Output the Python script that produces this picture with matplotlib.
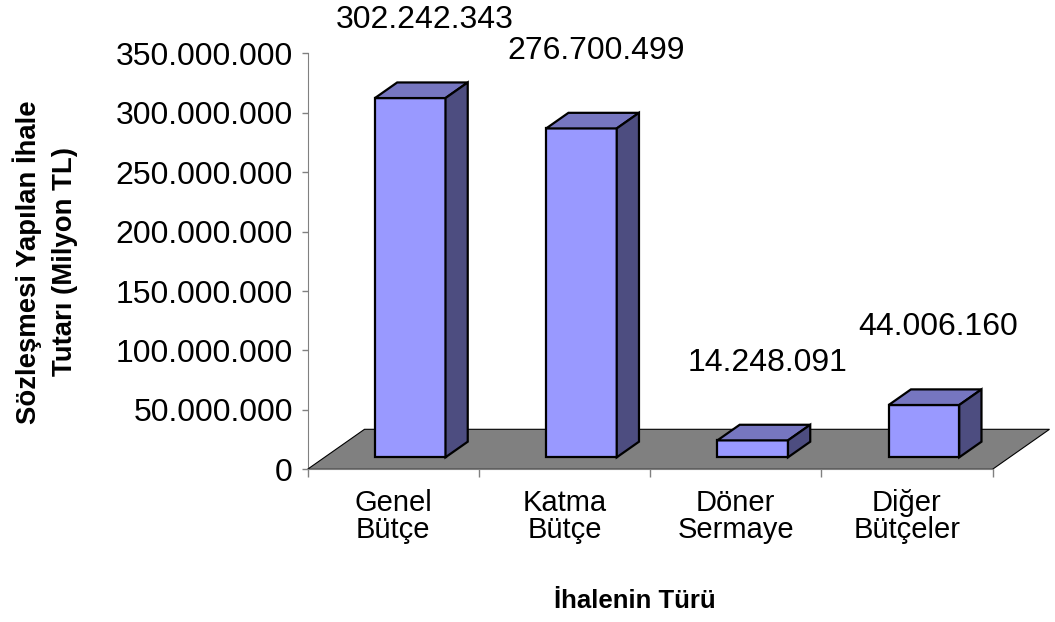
import matplotlib
matplotlib.use("Agg")
import matplotlib.pyplot as plt
from matplotlib.patches import Polygon

plt.rcParams['font.family'] = ['Liberation Sans', 'DejaVu Sans']

categories = ["Genel\nBütçe", "Katma\nBütçe", "Döner\nSermaye", "Diğer\nBütçeler"]
values = [302242343, 276700499, 14248091, 44006160]
yticks = [0, 50e6, 100e6, 150e6, 200e6, 250e6, 300e6, 350e6]

front_c = "#9999FF"
top_c = "#7676C0"
side_c = "#4D4D80"
floor_c = "#808080"

W, H = 1055, 622
fig = plt.figure(figsize=(W / 100, H / 100), dpi=100)
# plot area (front plane of the 3d box), in pixels
L, B, PW, PH = 307.5, H - 469.3, 685, 416
ax = fig.add_axes([L / W, B / H, PW / W, PH / H])
ax.set_xlim(0, len(values))
ax.set_ylim(0, 350e6)

# oblique depth vector of the floor, px -> data units
dx = 57 * len(values) / PW
dy = 40 * 350e6 / PH
f0, f1 = 0.30, 0.69      # bar front / back depth fraction
hw = 0.206               # half bar width (category units)

floor = Polygon([(0, 0), (len(values), 0), (len(values) + dx, dy), (dx, dy)],
                closed=True, facecolor=floor_c, edgecolor="black", lw=0.8,
                clip_on=False, zorder=1)
ax.add_patch(floor)

sx, sy = (f1 - f0) * dx, (f1 - f0) * dy
for i, v in enumerate(values):
    x0 = i + 0.5 - hw + f0 * dx
    x1 = x0 + 2 * hw
    y0 = f0 * dy
    yt = y0 + v
    kw = dict(closed=True, edgecolor="black", lw=1.6, joinstyle="miter",
              clip_on=False, zorder=3)
    ax.add_patch(Polygon([(x0, y0), (x1, y0), (x1, yt), (x0, yt)], facecolor=front_c, **kw))
    ax.add_patch(Polygon([(x0, yt), (x1, yt), (x1 + sx, yt + sy), (x0 + sx, yt + sy)],
                         facecolor=top_c, **kw))
    ax.add_patch(Polygon([(x1, y0), (x1 + sx, y0 + sy), (x1 + sx, yt + sy), (x1, yt)],
                         facecolor=side_c, **kw))
    lab = f"{v:,}".replace(",", ".")
    ax.annotate(lab, xy=(i + 0.5 + f0 * dx, yt), xytext=(10.5, 56),
                textcoords="offset points", ha="center", va="center",
                fontsize=23, annotation_clip=False, zorder=4)

for s in ["top", "right"]:
    ax.spines[s].set_visible(False)
ax.spines["left"].set_color("#808080")
ax.spines["bottom"].set_color("#808080")
ax.spines["left"].set_zorder(0)
ax.patch.set_visible(False)

ax.set_yticks(yticks)
ax.set_yticklabels([f"{int(t):,}".replace(",", ".") for t in yticks], fontsize=23)
ax.tick_params(axis="y", direction="out", length=4.5, width=1, color="#808080", pad=6)

ax.set_xticks(range(len(values) + 1))
ax.set_xticklabels([])
ax.tick_params(axis="x", which="major", direction="out", length=5.8, width=1, color="#808080")
ax.set_xticks([i + 0.5 for i in range(len(values))], minor=True)
ax.set_xticklabels(categories, minor=True, fontsize=21, linespacing=0.95)
ax.tick_params(axis="x", which="minor", length=0, pad=14)

fig.text(45 / W, 1 - 262 / H, "Sözleşmesi Yapılan İhale\nTutarı (Milyon TL)",
         rotation=90, ha="center", va="center", multialignment="center",
         fontsize=19.8, fontweight="bold", linespacing=1.5)
fig.text(635 / W, 1 - 601 / H, "İhalenin Türü", ha="center", va="center",
         fontsize=18.5, fontweight="bold")

fig.savefig("out.png", dpi=100)
